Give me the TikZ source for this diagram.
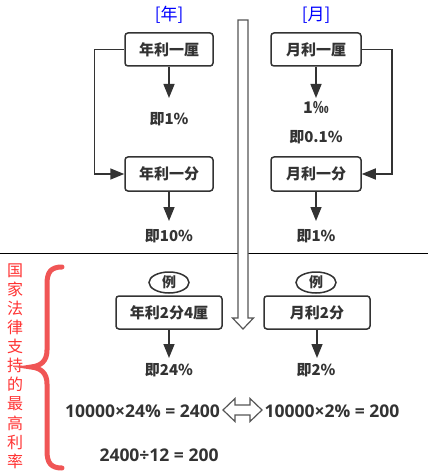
\documentclass[tikz,border=0pt]{standalone}
\usepackage{fontspec}
\setmainfont{Noto Sans CJK SC}
\newfontfamily\eqfont{Open Sans}
\usetikzlibrary{arrows.meta,shapes.geometric}
\definecolor{txt}{HTML}{333333}
\definecolor{hdblue}{HTML}{0000FF}
\definecolor{redtxt}{HTML}{FF3333}
\definecolor{redbrace}{HTML}{F05555}
\definecolor{hollow}{HTML}{555555}
\begin{document}
\begin{tikzpicture}[x=1pt,y=-1pt,
  box/.style={draw=txt, line width=1.5pt, rounded corners=3pt, inner sep=0pt,
    font=\bfseries\fontsize{15}{18}\selectfont, text=txt},
  lbl/.style={font=\bfseries\fontsize{15}{18}\selectfont, text=txt, inner sep=0pt},
  eqlbl/.style={font=\eqfont\bfseries\fontsize{17.5}{20}\selectfont, text=txt, inner sep=0pt},
  hd/.style={font=\fontsize{17}{20}\selectfont, text=hdblue, inner sep=0pt},
  ex/.style={draw=txt, line width=1.5pt, ellipse, minimum width=40pt, minimum height=21pt,
    inner sep=0pt, font=\bfseries\fontsize{14}{16}\selectfont, text=txt},
  arr/.style={draw=txt, line width=1.5pt, -{Triangle[length=14pt,width=11pt]}},
  hollowarr/.style={draw=hollow, line width=1.2pt, fill=white, line join=miter}
]
\useasboundingbox (0,0) rectangle (428,473);
\fill[white] (0,0) rectangle (428,473);

% headers
\node[hd] (hy) at (169,15) {[年]};
\node[hd] (hm) at (316,15) {[月]};

% divider line
\draw[black, line width=1pt] (0,253) coordinate (dl) -- (428,253) coordinate (dr);

% big hollow arrow
\draw[hollowarr] (238,20) -- (248,20) -- (248,318) -- (253.5,318) -- (243,329) -- (232.5,318) -- (238,318) -- cycle;

% year column
\node[box, minimum width=88pt, minimum height=33pt] (b1) at (169,49.5) {年利一厘};
\node[box, minimum width=88pt, minimum height=34pt] (b2) at (169,174) {年利一分};
\coordinate (c1) at (169,98);
\coordinate (c2) at (169,221);
\node[lbl] (l1) at (169,119) {即1\%};
\node[lbl] (l2) at (169,236) {即10\%};
\draw[arr] (b1.south) -- (c1);
\draw[arr] (b2.south) -- (c2);
\draw[arr] (b1.west) -- ++(-30,0) |- (b2.west);

% month column
\node[box, minimum width=90pt, minimum height=33pt] (m1) at (316,49.5) {月利一厘};
\node[box, minimum width=90pt, minimum height=34pt] (m2) at (316,174) {月利一分};
\coordinate (c3) at (316,98);
\coordinate (c4) at (316,221);
\node[lbl, font=\bfseries\fontsize{16}{18}\selectfont] (l3) at (316,108) {1‰};
\node[lbl] (l4) at (316,137) {即0.1\%};
\node[lbl] (l5) at (316,236) {即1\%};
\draw[arr] (m1.south) -- (c3);
\draw[arr] (m2.south) -- (c4);
\draw[arr] (m1.east) -- ++(30,0) |- (m2.east);

% lower section
\node[font=\fontsize{16}{19.1}\selectfont, text=redtxt, align=center, inner sep=0pt] (vt) at (15,366)
  {国\\家\\法\\律\\支\\持\\的\\最\\高\\利\\率};
\draw[redbrace, line width=5pt, line cap=round]
  (62,267) .. controls (51,267) and (47,272) .. (47,284) -- (47,350)
  .. controls (47,361) and (41,366) .. (31,367)
  .. controls (41,368) and (47,373) .. (47,384) -- (47,451)
  .. controls (47,463) and (51,468) .. (62,468);

\node[ex] (e1) at (169,282.5) {例};
\node[ex] (e2) at (316,282.5) {例};
\node[box, minimum width=106pt, minimum height=33pt] (b3) at (169,312.5) {年利2分4厘};
\node[box, minimum width=106pt, minimum height=33pt] (m3) at (317,312.5) {月利2分};
\coordinate (c5) at (169,358);
\coordinate (c6) at (317,358);
\draw[arr] (b3.south) -- (c5);
\draw[arr] (m3.south) -- (c6);
\node[lbl] (l6) at (169,370) {即24\%};
\node[lbl] (l7) at (316,370) {即2\%};

\node[eqlbl] (q1) at (142.5,411) {10000×24\% = 2400};
\node[eqlbl] (q2) at (332,411) {10000×2\% = 200};
\node[eqlbl] (q3) at (159,455) {2400÷12 = 200};

% double hollow arrow
\draw[hollowarr] (223,410) -- (235,398.5) -- (235,405) -- (250,405) -- (250,398.5) -- (262,410)
  -- (250,421.5) -- (250,415) -- (235,415) -- (235,421.5) -- cycle;
\end{tikzpicture}
\end{document}
